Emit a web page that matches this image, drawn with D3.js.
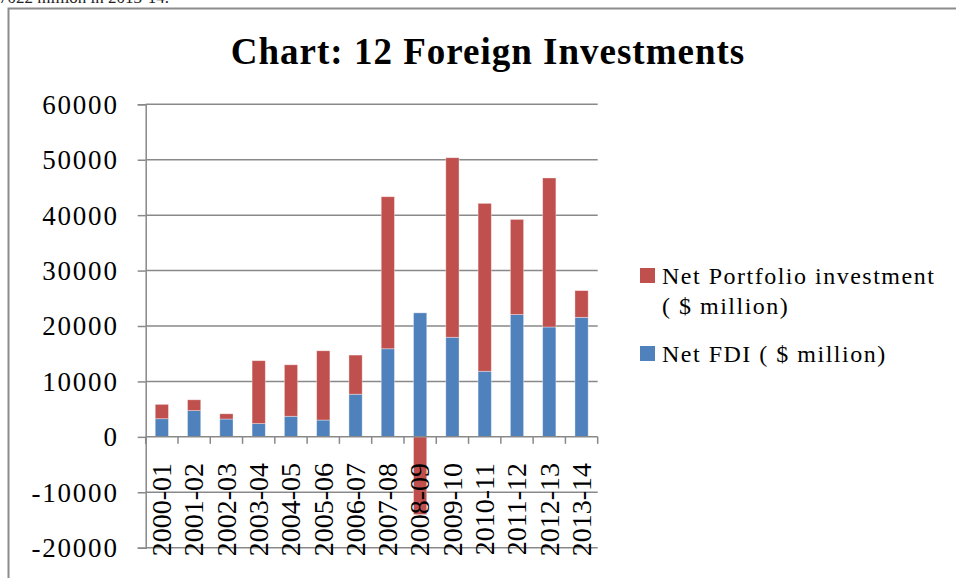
<!DOCTYPE html>
<html>
<head>
<meta charset="utf-8">
<script src="https://cdn.jsdelivr.net/npm/d3@7"></script>
<style>
    body { margin: 0; background: #fff; }
    svg { display: block; }
</style>
</head>
<body>
<div id="chart"></div>
<script>
        const years = ["2000-01", "2001-02", "2002-03", "2003-04", "2004-05", "2005-06", "2006-07",
            "2007-08", "2008-09", "2009-10", "2010-11", "2011-12", "2012-13", "2013-14"];
        const netFDI = [3272, 4734, 3217, 2388, 3713, 3034, 7693, 15893, 22372, 17966, 11834, 22061, 19819, 21564];
        const netPortfolio = [2590, 1952, 944, 11356, 9287, 12494, 7060, 27433, -14030, 32396, 30293, 17170, 26891, 4822];
        const yTicks = [-20000, -10000, 0, 10000, 20000, 30000, 40000, 50000, 60000];
        const seriesNames = ["Net FDI ( $ million)", "Net Portfolio investment ( $ million)"];

        const width = 956, height = 578;
        const plot = { left: 145.7, right: 597.7, top: 104.3, bottom: 547.7 };
        const serif = "'Liberation Serif', 'Times New Roman', serif";
        const gridColor = "#898989";
        const colors = { fdi: "#4F81BD", portfolio: "#C0504D" };

        const rows = years.map((y, i) => ({ year: y, fdi: netFDI[i], portfolio: netPortfolio[i] }));

        const svg = d3.select("#chart")
            .append("svg")
            .attr("width", width)
            .attr("height", height);

        // cut-off line of text above the chart frame
        svg.append("text")
            .attr("x", -1)
            .attr("y", 3)
            .attr("font-family", serif)
            .attr("font-size", 17)
            .attr("fill", "#222")
            .text("7022 million in 2013-14.");

        // frame (left and top only visible)
        svg.append("path")
            .attr("d", `M8.5,${height} V8.5 H${width}`)
            .attr("fill", "none")
            .attr("stroke", "#8c8c8c")
            .attr("stroke-width", 2);

        svg.append("text")
            .attr("x", 488)
            .attr("y", 64)
            .attr("text-anchor", "middle")
            .attr("font-family", serif)
            .attr("font-weight", "bold")
            .attr("font-size", 37)
            .attr("letter-spacing", 1)
            .attr("fill", "#000")
            .text("Chart: 12 Foreign Investments");

        const x = d3.scaleBand()
            .domain(years)
            .range([plot.left, plot.right])
            .padding(0);

        const y = d3.scaleLinear()
            .domain([-20000, 60000])
            .range([plot.bottom, plot.top]);

        // gridlines
        svg.append("g")
            .selectAll("line")
            .data(yTicks.filter(d => d !== 0))
            .enter()
            .append("line")
            .attr("x1", plot.left)
            .attr("x2", plot.right)
            .attr("y1", d => y(d))
            .attr("y2", d => y(d))
            .attr("stroke", gridColor)
            .attr("stroke-width", 1.5);

        const stack = d3.stack()
            .keys(["fdi", "portfolio"])
            .offset(d3.stackOffsetDiverging);

        const layers = stack(rows);
        const barW = x.bandwidth() * 0.41;

        svg.append("g")
            .selectAll("g")
            .data(layers)
            .enter()
            .append("g")
            .attr("fill", d => colors[d.key])
            .selectAll("rect")
            .data(d => d)
            .enter()
            .append("rect")
            .attr("x", d => x(d.data.year) + (x.bandwidth() - barW) / 2)
            .attr("width", barW)
            .attr("y", d => y(Math.max(d[0], d[1])))
            .attr("height", d => Math.abs(y(d[0]) - y(d[1])))
            .attr("stroke", "#fff")
            .attr("stroke-opacity", 0.45)
            .attr("stroke-width", 0.8);

        // y axis, plain hyphen for negatives like the original
        const yAxis = svg.append("g")
            .attr("transform", `translate(${plot.left},0)`)
            .call(d3.axisLeft(y).tickValues(yTicks).tickSize(8).tickPadding(19).tickFormat(d => String(d)));

        yAxis.select(".domain").attr("stroke", gridColor).attr("stroke-width", 1.5);
        yAxis.selectAll(".tick line").attr("stroke", gridColor).attr("stroke-width", 1.5);
        yAxis.selectAll(".tick text")
            .attr("font-family", serif)
            .attr("font-size", 27)
            .attr("letter-spacing", 1.8)
            .attr("fill", "#000")
            .attr("dy", "0.33em");

        // x axis at zero
        const xAxisG = svg.append("g");
        xAxisG.append("line")
            .attr("x1", plot.left)
            .attr("x2", plot.right)
            .attr("y1", y(0))
            .attr("y2", y(0))
            .attr("stroke", gridColor)
            .attr("stroke-width", 1.5);

        xAxisG.selectAll(".xtick")
            .data(years.concat(["end"]))
            .enter()
            .append("line")
            .attr("class", "xtick")
            .attr("x1", d => d === "end" ? plot.right : x(d))
            .attr("x2", d => d === "end" ? plot.right : x(d))
            .attr("y1", y(0))
            .attr("y2", y(0) + 7)
            .attr("stroke", gridColor)
            .attr("stroke-width", 1.5);

        // category labels sit low, over the plot bottom
        xAxisG.selectAll(".xlabel")
            .data(years)
            .enter()
            .append("text")
            .attr("class", "xlabel")
            .attr("transform", d => `translate(${x(d) + x.bandwidth() / 2},463) rotate(-90)`)
            .attr("text-anchor", "end")
            .attr("dy", "0.33em")
            .attr("font-family", serif)
            .attr("font-size", 28)
            .attr("fill", "#000")
            .text(d => d);

        // legend
        const legend = svg.append("g");
        const legendItems = [
            { key: "portfolio", lines: ["Net Portfolio investment", "( $ million)"], top: 268 },
            { key: "fdi", lines: [seriesNames[0]], top: 346 }
        ];

        legendItems.forEach(item => {
            legend.append("rect")
                .attr("x", 640)
                .attr("y", item.top)
                .attr("width", 15)
                .attr("height", 15)
                .attr("fill", colors[item.key]);

            const t = legend.append("text")
                .attr("x", 662)
                .attr("y", item.top + 16)
                .attr("font-family", serif)
                .attr("font-size", 24)
                .attr("letter-spacing", 1.5)
                .attr("fill", "#000");

            item.lines.forEach((line, i) => {
                t.append("tspan")
                    .attr("x", 662)
                    .attr("dy", i === 0 ? 0 : 30)
                    .text(line);
            });
        });
</script>
</body>
</html>
